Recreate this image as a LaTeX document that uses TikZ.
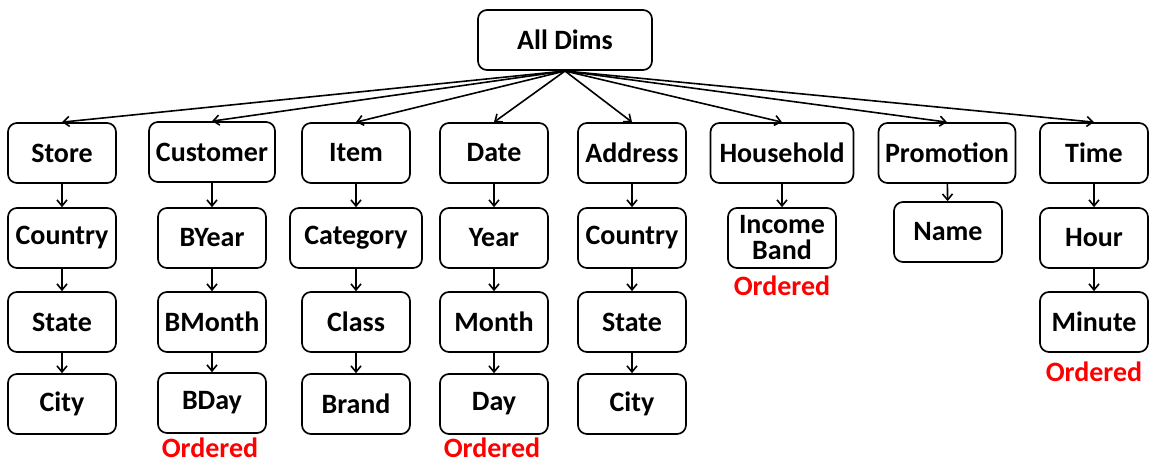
\documentclass[tikz,border=0pt]{standalone}
\usepackage{fontspec}
\setmainfont{Carlito}
\usetikzlibrary{arrows.meta}
\begin{document}
\begin{tikzpicture}[x=1pt,y=-1pt,
  dim/.style={draw, line width=1.7pt, rounded corners=9pt, minimum width=108pt,
    minimum height=60pt, inner sep=0pt, align=center,
    font=\bfseries\fontsize{28}{26}\selectfont},
  link/.style={line width=1.6pt, -{Straight Barb[length=6pt,width=10pt]}},
  ordered/.style={text=red, inner sep=0pt, font=\bfseries\fontsize{28}{30}\selectfont}]
\useasboundingbox (0,0) rectangle (1152,464);

% root
\node[dim, minimum width=174pt] (root) at (565,40) {All Dims};
\coordinate (hub) at (565,71);

% dimensions
\node[dim] (store) at (62,153) {Store};
\node[dim, minimum width=126pt] (customer) at (212,152) {Customer};
\node[dim] (item) at (356,153) {Item};
\node[dim] (date) at (494,153) {Date};
\node[dim] (address) at (632,153) {Address};
\node[dim, minimum width=143pt] (household) at (782,153) {Household};
\node[dim, minimum width=137pt] (promotion) at (947,153) {Promotion};
\node[dim] (time) at (1094,153) {Time};

% second level
\node[dim] (country1) at (62,238) {Country};
\node[dim] (byear) at (212,238) {BYear};
\node[dim, minimum width=132pt] (category) at (356,238) {Category};
\node[dim] (year) at (494,238) {Year};
\node[dim] (country2) at (632,238) {Country};
\node[dim] (income) at (782,238) {Income\\Band};
\node[dim] (name) at (948,232) {Name};
\node[dim] (hour) at (1094,238) {Hour};

% third level
\node[dim] (state1) at (62,322) {State};
\node[dim] (bmonth) at (212,322) {BMonth};
\node[dim] (class) at (356,322) {Class};
\node[dim] (month) at (494,322) {Month};
\node[dim] (state2) at (632,322) {State};
\node[dim] (minute) at (1094,322) {Minute};

% fourth level
\node[dim] (city1) at (62,404) {City};
\node[dim] (bday) at (212,403) {BDay};
\node[dim] (brand) at (356,404) {Brand};
\node[dim] (day) at (494,404) {Day};
\node[dim] (city2) at (632,404) {City};

% ordering notes
\node[ordered] (ord1) at (210,448) {Ordered};
\node[ordered] (ord2) at (492,448) {Ordered};
\node[ordered] (ord3) at (782,286) {Ordered};
\node[ordered] (ord4) at (1094,372) {Ordered};

% root to dimensions
\foreach \d in {store,customer,item,date,address,household,promotion,time}
  \draw[link] (hub) -- (\d.north);

% hierarchies
\draw[link] (store) -- (country1);
\draw[link] (country1) -- (state1);
\draw[link] (state1) -- (city1);
\draw[link] (customer) -- (byear);
\draw[link] (byear) -- (bmonth);
\draw[link] (bmonth) -- (bday);
\draw[link] (item) -- (category);
\draw[link] (category) -- (class);
\draw[link] (class) -- (brand);
\draw[link] (date) -- (year);
\draw[link] (year) -- (month);
\draw[link] (month) -- (day);
\draw[link] (address) -- (country2);
\draw[link] (country2) -- (state2);
\draw[link] (state2) -- (city2);
\draw[link] (household) -- (income);
\draw[link] (promotion) -- (name);
\draw[link] (time) -- (hour);
\draw[link] (hour) -- (minute);
\end{tikzpicture}
\end{document}
